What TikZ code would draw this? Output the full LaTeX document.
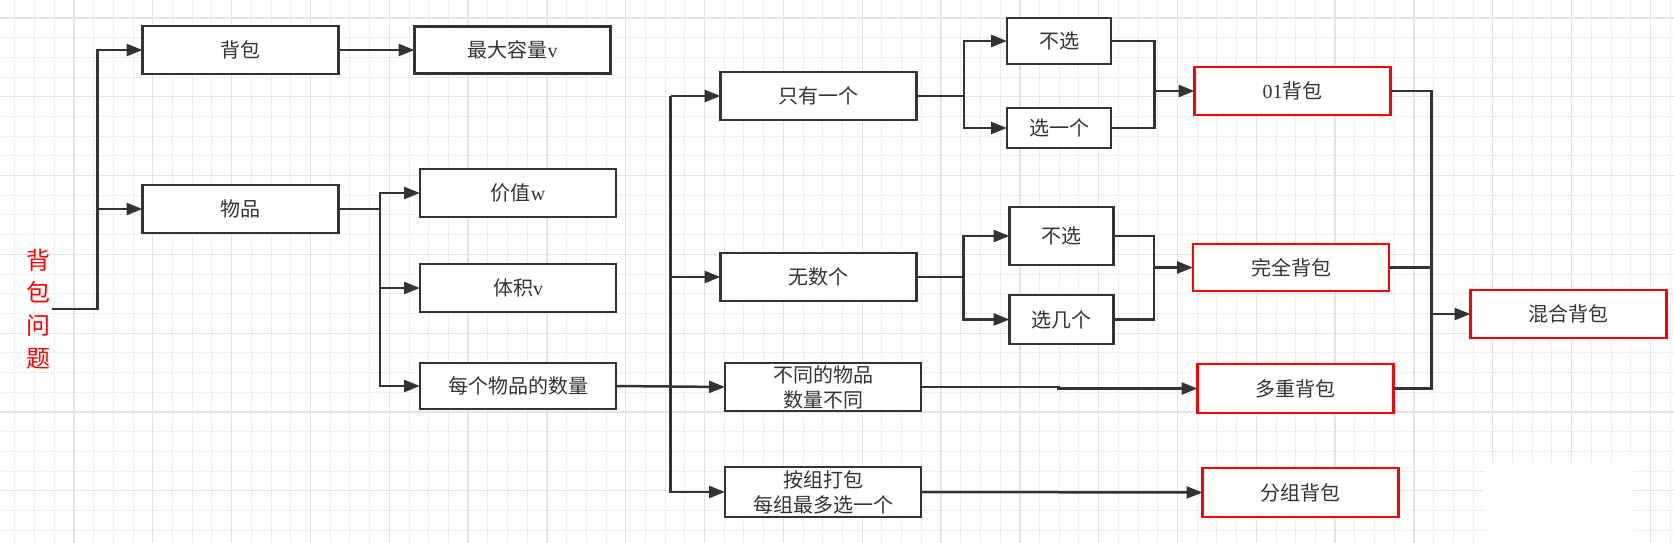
\documentclass[tikz,border=0pt]{standalone}
\usepackage{fontspec}
\setmainfont{Liberation Serif}
\newfontfamily\cjk{Noto Sans CJK SC}
\usepackage{tikz}
\usetikzlibrary{positioning, arrows.meta}
\definecolor{ink}{RGB}{51,51,51}
\definecolor{alert}{RGB}{255,0,0}
\definecolor{gridminor}{RGB}{238,238,238}
\definecolor{gridmajor}{RGB}{228,228,228}

\begin{document}
\begin{tikzpicture}[
    x=1pt, y=-1pt,
    box/.style={rectangle, draw=ink, line width=2.5pt, fill=white, text=ink, inner sep=0pt, outer sep=0pt,
        minimum width=196pt, minimum height=46pt, align=center, font=\cjk\fontsize{20}{25}\selectfont},
    redbox/.style={box, draw=alert},
    choice/.style={box, minimum width=104pt},
    wire/.style={draw=ink, line width=2.5pt},
    link/.style={wire, -{Triangle[length=16pt, width=12pt]}}
]
\useasboundingbox (0,0) rectangle (1674,543);

% 背景网格
\foreach \i in {0,...,84} \draw[gridminor, line width=1pt] ({14.9+19.705*\i},0) -- ++(0,543);
\foreach \i in {0,...,27} \draw[gridminor, line width=1pt] (0,{-1.8+19.705*\i}) -- ++(1674,0);
\foreach \i in {0,...,20} \draw[gridmajor, line width=1.3pt] ({74+78.82*\i},0) -- ++(0,543);
\foreach \i in {0,...,6} \draw[gridmajor, line width=1.3pt] (0,{17.9+78.82*\i}) -- ++(1674,0);
\fill[white] (1485,463) rectangle (1633,543);

% 标题
\node[text=alert, align=center, inner sep=1pt, font=\cjk\fontsize{24}{32.6}\selectfont] (title) at (38.5,309) {背\\包\\问\\题};

% 第一层
\node[box, minimum height=48pt] (bag) at (240.5,50) {背包};
\node[box, minimum height=48pt, below=111pt of bag] (item) {物品};

% 第二层
\node[box, minimum height=47pt, right=76pt of bag] (cap) {最大容量{\rmfamily v}};
\node[box, minimum height=48pt] (value) at (518,193) {价值{\rmfamily w}};
\node[box, minimum height=48pt, below=47pt of value] (volume) {体积{\rmfamily v}};
\node[box, below=51pt of volume] (count) {每个物品的数量};

% 数量分类
\node[box, minimum height=48pt] (one) at (818.5,96) {只有一个};
\node[box, minimum height=48pt, below=133pt of one] (inf) {无数个};
\node[box, minimum height=48pt] (multi) at (823,387) {不同的物品\\数量不同};
\node[box, minimum height=50pt, below=56pt of multi] (group) {按组打包\\每组最多选一个};

% 选或不选
\node[choice, minimum height=46pt] (skipA) at (1059,41) {不选};
\node[choice, minimum height=40pt, below=44pt of skipA] (takeA) {选一个};
\node[choice, minimum height=58pt] (skipB) at (1061.5,236) {不选};
\node[choice, minimum height=49pt, below=30pt of skipB] (takeB) {选几个};

% 背包类型
\node[redbox, minimum height=48pt] (zeroone) at (1292.5,91) {{\rmfamily 01}背包};
\node[redbox, minimum height=47pt] (full) at (1291,267.5) {完全背包};
\node[redbox, minimum height=49pt] (bounded) at (1295.5,388.5) {多重背包};
\node[redbox, minimum height=49pt] (grouped) at (1300.5,492.5) {分组背包};
\node[redbox, minimum height=48pt] (mixed) at (1568.5,314) {混合背包};

% 连接线
\draw[link] (title.east) -| ([xshift=-45pt]bag.west) -- (bag.west);
\draw[link] ([xshift=-45pt]item.west) -- (item.west);
\draw[link] (bag.east) -- (cap.west);

\draw[link] (item.east) -| ([xshift=-40pt]value.west) -- (value.west);
\draw[link] ([xshift=-40pt]value.west) |- (count.west);
\draw[link] ([xshift=-40pt]volume.west) -- (volume.west);

\draw[link] ([xshift=-50pt]one.west) -- (one.west);
\draw[link] ([xshift=-50pt]one.west) |- (group.west);
\draw[link] ([xshift=-50pt]one.west |- inf.west) -- (inf.west);
\draw[link] (count.east) -- (multi.west);

\draw[link] (one.east) -| ([xshift=-43pt]skipA.west) -- (skipA.west);
\draw[link] ([xshift=-43pt]skipA.west) |- (takeA.west);
\draw[link] (inf.east) -| ([xshift=-46pt]skipB.west) -- (skipB.west);
\draw[link] ([xshift=-46pt]skipB.west) |- (takeB.west);

\draw[link] (skipA.east) -| ([xshift=-40pt]zeroone.west) -- (zeroone.west);
\draw[wire] (takeA.east) -| ([xshift=-40pt]zeroone.west);
\draw[link] (skipB.east) -| ([xshift=-39pt]full.west) -- (full.west);
\draw[wire] (takeB.east) -| ([xshift=-39pt]full.west);

\draw[link] (multi.east) -- ([xshift=-139pt]bounded.west |- multi.east) |- (bounded.west);
\draw[link] (group.east) -- (grouped.west);

\draw[link] (zeroone.east) -| ([xshift=-39pt]mixed.west) -- (mixed.west);
\draw[wire] (full.east) -| ([xshift=-39pt]mixed.west);
\draw[wire] (bounded.east) -| ([xshift=-39pt]mixed.west);

\end{tikzpicture}
\end{document}
